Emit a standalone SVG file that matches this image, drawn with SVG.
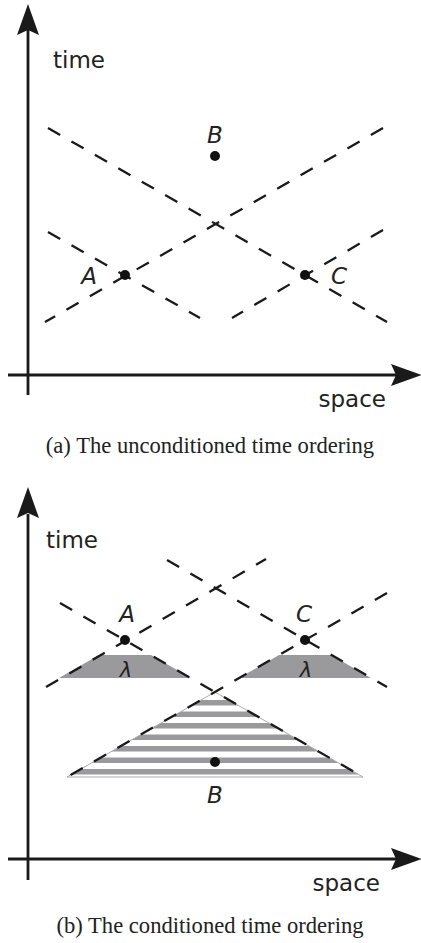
<svg xmlns="http://www.w3.org/2000/svg" width="421" height="943" viewBox="0 0 421 943">
<style>
.ax{stroke:#1a1a1a;stroke-width:2.8;fill:none}
.ah{fill:#1a1a1a}
.dl{stroke:#1a1a1a;stroke-width:2.3;stroke-dasharray:14 13;fill:none}
.lab{font-family:"DejaVu Sans",sans-serif;font-size:23px;fill:#222}
.it{font-family:"DejaVu Sans",sans-serif;font-size:23px;font-style:italic;fill:#222}
.lam{font-family:"DejaVu Sans",sans-serif;font-size:21px;font-style:italic;fill:#222}
.cap{font-family:"Liberation Serif",serif;font-size:22.6px;fill:#222}
.pt{fill:#111}
.sh{fill:#9a9a9c}
</style>
<defs>
<clipPath id="tri"><polygon points="215,692 363,777 67,777"/></clipPath>
</defs>
<rect width="421" height="943" fill="#fff"/>

<!-- Panel (a) -->
<g id="axes-a">
<line class="ax" x1="28" y1="30" x2="28" y2="395"/>
<polygon class="ah" points="28,4 39,35 28,30 17,35"/>
<line class="ax" x1="8" y1="375" x2="396" y2="375"/>
<polygon class="ah" points="422,375 391,386 396,375 391,364"/>
<text class="lab" x="53" y="68">time</text>
<text class="lab" x="386" y="407" text-anchor="end">space</text>
</g>
<g id="connectors-a">
<line class="dl" x1="48" y1="128" x2="387" y2="322"/>
<line class="dl" x1="383" y1="128" x2="45" y2="322"/>
<line class="dl" x1="48" y1="232" x2="200" y2="318"/>
<line class="dl" x1="383" y1="230" x2="232" y2="318"/>
</g>
<g id="node-a-A"><circle class="pt" cx="125" cy="275" r="5"/><text class="it" x="89" y="284" text-anchor="middle">A</text></g>
<g id="node-a-B"><circle class="pt" cx="215" cy="156" r="5"/><text class="it" x="215" y="143" text-anchor="middle">B</text></g>
<g id="node-a-C"><circle class="pt" cx="305" cy="275" r="5"/><text class="it" x="339" y="284" text-anchor="middle">C</text></g>
<text class="cap" x="210" y="453" text-anchor="middle">(a) The unconditioned time ordering</text>

<!-- Panel (b) -->
<g id="axes-b">
<line class="ax" x1="28" y1="514" x2="28" y2="880"/>
<polygon class="ah" points="28,487 39,518 28,513 17,518"/>
<line class="ax" x1="8" y1="859" x2="396" y2="859"/>
<polygon class="ah" points="422,859 391,870 396,859 391,848"/>
<text class="lab" x="46" y="548">time</text>
<text class="lab" x="380" y="891" text-anchor="end">space</text>
</g>
<g id="regions-b">
<polygon class="sh" points="99,655 151,655 191,678 59,678"/>
<polygon class="sh" points="279,655 331,655 371,678 239,678"/>
<g clip-path="url(#tri)" class="sh">
<rect x="60" y="700" width="310" height="5.5"/>
<rect x="60" y="711.5" width="310" height="5.5"/>
<rect x="60" y="723" width="310" height="5.5"/>
<rect x="60" y="734.5" width="310" height="5.5"/>
<rect x="60" y="746" width="310" height="5.5"/>
<rect x="60" y="757.5" width="310" height="5.5"/>
<rect x="60" y="769" width="310" height="5.5"/>
</g>
<polygon points="215,692 363,777 67,777" fill="none" stroke="#aaa" stroke-width="1"/>
<text class="lam" x="126" y="677" text-anchor="middle">λ</text>
<text class="lam" x="306" y="677" text-anchor="middle">λ</text>
</g>
<g id="connectors-b">
<line class="dl" x1="60" y1="603" x2="363" y2="777"/>
<line class="dl" x1="46" y1="687" x2="266" y2="559"/>
<line class="dl" x1="167" y1="560" x2="387" y2="687"/>
<line class="dl" x1="387" y1="593" x2="67" y2="777"/>
</g>
<g id="node-b-A"><circle class="pt" cx="125" cy="640" r="5"/><text class="it" x="127" y="622" text-anchor="middle">A</text></g>
<g id="node-b-C"><circle class="pt" cx="305" cy="640" r="5"/><text class="it" x="304" y="622" text-anchor="middle">C</text></g>
<g id="node-b-B"><circle class="pt" cx="215" cy="762" r="5"/><text class="it" x="215" y="803" text-anchor="middle">B</text></g>
<text class="cap" x="210" y="933" text-anchor="middle">(b) The conditioned time ordering</text>
</svg>
